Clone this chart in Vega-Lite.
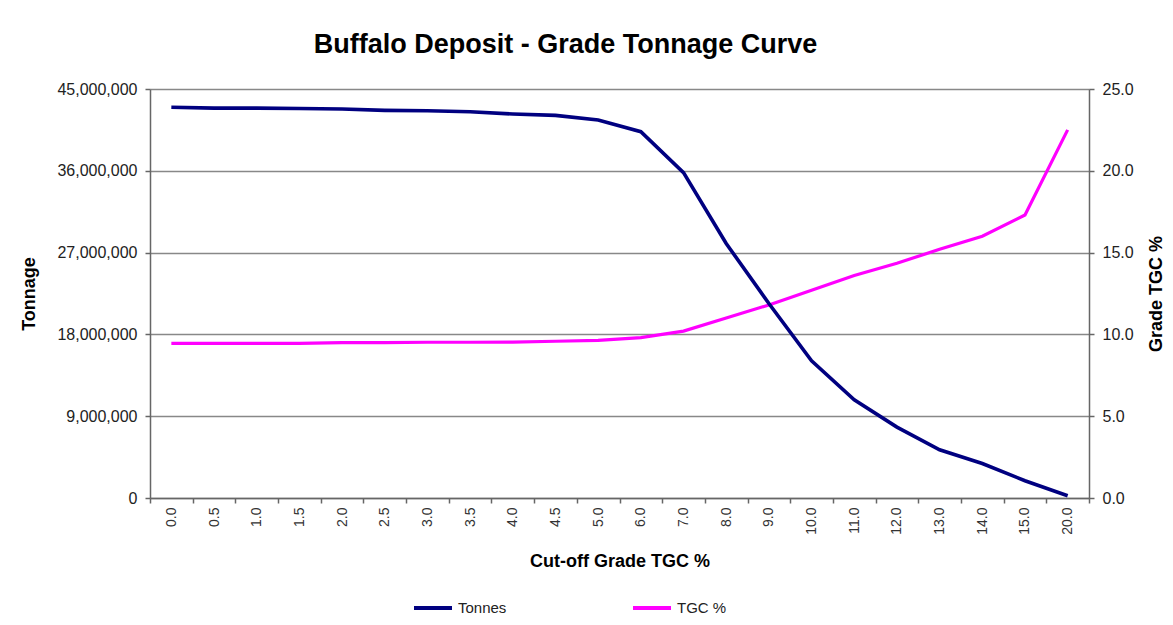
{
  "$schema": "https://vega.github.io/schema/vega-lite/v6.json",
  "width": 939,
  "height": 409,
  "autosize": "none",
  "padding": {"left": 150, "top": 89, "right": 84, "bottom": 127},
  "background": "white",
  "title": {
    "text": "Buffalo Deposit - Grade Tonnage Curve",
    "fontSize": 27,
    "fontWeight": "bold",
    "color": "#000000",
    "anchor": "middle",
    "frame": "group",
    "dx": -54,
    "offset": 1,
    "baseline": "alphabetic"
  },
  "data": {
    "values": [
      {"grade": "0.0", "tonnes": 43000000, "tgc": 9.45},
      {"grade": "0.5", "tonnes": 42900000, "tgc": 9.45},
      {"grade": "1.0", "tonnes": 42900000, "tgc": 9.45},
      {"grade": "1.5", "tonnes": 42850000, "tgc": 9.45},
      {"grade": "2.0", "tonnes": 42800000, "tgc": 9.5},
      {"grade": "2.5", "tonnes": 42650000, "tgc": 9.5},
      {"grade": "3.0", "tonnes": 42600000, "tgc": 9.52},
      {"grade": "3.5", "tonnes": 42500000, "tgc": 9.52},
      {"grade": "4.0", "tonnes": 42250000, "tgc": 9.53},
      {"grade": "4.5", "tonnes": 42100000, "tgc": 9.58},
      {"grade": "5.0", "tonnes": 41600000, "tgc": 9.63},
      {"grade": "6.0", "tonnes": 40300000, "tgc": 9.8},
      {"grade": "7.0", "tonnes": 35800000, "tgc": 10.2},
      {"grade": "8.0", "tonnes": 28000000, "tgc": 11.0},
      {"grade": "9.0", "tonnes": 21400000, "tgc": 11.8},
      {"grade": "10.0", "tonnes": 15100000, "tgc": 12.7},
      {"grade": "11.0", "tonnes": 10800000, "tgc": 13.6},
      {"grade": "12.0", "tonnes": 7800000, "tgc": 14.35},
      {"grade": "13.0", "tonnes": 5300000, "tgc": 15.2},
      {"grade": "14.0", "tonnes": 3800000, "tgc": 16.0},
      {"grade": "15.0", "tonnes": 1900000, "tgc": 17.3},
      {"grade": "20.0", "tonnes": 250000, "tgc": 22.5}
    ]
  },
  "encoding": {
    "x": {
      "field": "grade",
      "type": "ordinal",
      "sort": null,
      "bandPosition": 0.5,
      "scale": {"type": "band", "paddingInner": 0, "paddingOuter": 0},
      "title": "Cut-off Grade TGC %",
      "axis": {
        "labelAngle": 270,
        "labelFontSize": 14,
        "labelColor": "#333333",
        "labelOverlap": false,
        "tickBand": "extent",
        "tickSize": 5,
        "labelPadding": 4,
        "domainColor": "#666666",
        "domainWidth": 1.5,
        "tickColor": "#666666",
        "tickWidth": 1.5,
        "grid": false,
        "titleFontSize": 18,
        "titleFontWeight": "bold",
        "titleColor": "#000000",
        "titlePadding": 18
      }
    }
  },
  "layer": [
    {
      "mark": {"type": "line", "strokeWidth": 3.2},
      "encoding": {
        "y": {
          "field": "tgc",
          "type": "quantitative",
          "scale": {"domain": [0, 25], "nice": false},
          "title": "Grade TGC %",
          "axis": {
            "orient": "right",
            "values": [0, 5, 10, 15, 20, 25],
            "format": ".1f",
            "grid": false,
            "tickSize": 5,
            "labelPadding": 8,
            "labelFontSize": 16,
            "labelColor": "#222222",
            "domainColor": "#666666",
            "domainWidth": 1.5,
            "tickColor": "#666666",
            "tickWidth": 1.5,
            "titleAngle": 270,
            "titleFontSize": 18,
            "titleFontWeight": "bold",
            "titleColor": "#000000",
            "titlePadding": 32
          }
        },
        "color": {
          "datum": "TGC %",
          "type": "nominal"
        }
      }
    },
    {
      "mark": {"type": "line", "strokeWidth": 3.6},
      "encoding": {
        "y": {
          "field": "tonnes",
          "type": "quantitative",
          "scale": {"domain": [0, 45000000], "nice": false},
          "title": "Tonnage",
          "axis": {
            "orient": "left",
            "values": [0, 9000000, 18000000, 27000000, 36000000, 45000000],
            "format": ",.0f",
            "grid": true,
            "gridColor": "#888888",
            "gridWidth": 1.5,
            "tickSize": 5,
            "labelPadding": 8,
            "labelFontSize": 16,
            "labelColor": "#222222",
            "domainColor": "#666666",
            "domainWidth": 1.5,
            "tickColor": "#666666",
            "tickWidth": 1.5,
            "titleFontSize": 18,
            "titleFontWeight": "bold",
            "titleColor": "#000000",
            "titlePadding": 18
          }
        },
        "color": {
          "datum": "Tonnes",
          "type": "nominal",
          "scale": {"domain": ["Tonnes", "TGC %"], "range": ["#000080", "#ff00ff"]},
          "legend": {
            "orient": "none",
            "legendX": 262,
            "legendY": 498,
            "direction": "horizontal",
            "title": null,
            "symbolType": "stroke",
            "symbolSize": 1444,
            "symbolStrokeWidth": 4,
            "labelFontSize": 15,
            "labelColor": "#222222",
            "labelOffset": 4,
            "columnPadding": 118
          }
        }
      }
    }
  ],
  "resolve": {"scale": {"y": "independent"}},
  "config": {
    "font": "Liberation Sans",
    "view": {"stroke": null}
  }
}
